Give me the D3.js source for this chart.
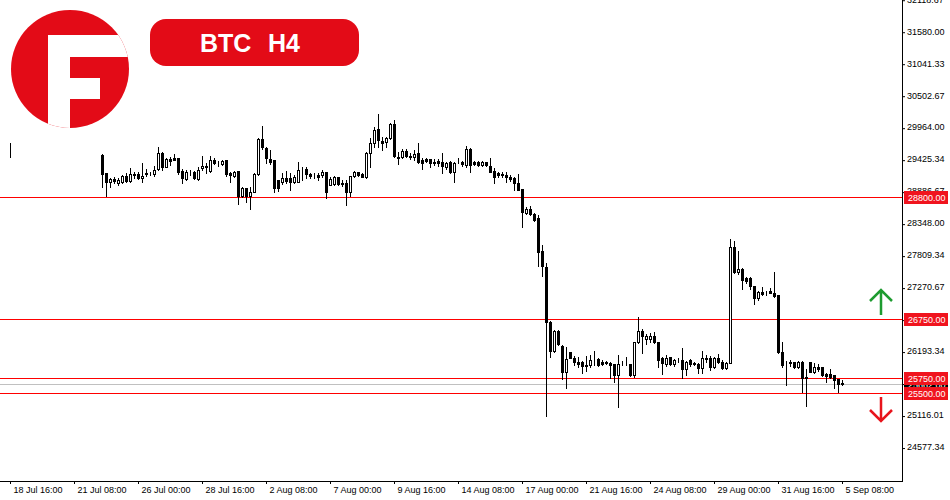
<!DOCTYPE html>
<html>
<head>
<meta charset="utf-8">
<title>BTC H4</title>
<script src="https://d3js.org/d3.v7.min.js"></script>
<style>
body { margin: 0; background: #fff; }
svg { display: block; font-family: "Liberation Sans", Arial, sans-serif; }
</style>
</head>
<body>
<svg id="chart" width="950" height="500"></svg>
<script>
var symbol = "BTC", period = "H4";

// bottom axis labels, one every 16 bars
var timeLabels = ["18 Jul 16:00", "21 Jul 08:00", "26 Jul 00:00", "28 Jul 16:00", "2 Aug 08:00",
    "7 Aug 00:00", "9 Aug 16:00", "14 Aug 08:00", "17 Aug 00:00", "21 Aug 16:00",
    "24 Aug 08:00", "29 Aug 00:00", "31 Aug 16:00", "5 Sep 08:00"];
var labelStep = 16;

var priceTicks = [24577.34, 25116.01, 25654.67, 26193.34, 26732.01, 27270.67, 27809.34, 28348.00,
    28886.67, 29425.34, 29964.00, 30502.67, 31041.33, 31580.00, 32118.67];

// support / resistance levels
var levels = [28800, 26750, 25750, 25500];

// first (cut) bar at the left edge
var edgeIndex = 0;
var edgeBar = [29600, 29709, 29484, 29590];

// visible H4 candles, starting at bar 23
var firstIndex = 23;
var opens = [
  29512, 29209, 29063, 29108, 29046, 29058, 29159, 29074, 29192, 29192,
  29120, 29204, 29204, 29187, 29271, 29551, 29315, 29445, 29457, 29457,
  29248, 29103, 29221, 29231, 29103, 29288, 29327, 29243, 29428, 29372,
  29361, 29428, 29214, 29164, 29243, 28822, 28952, 28822, 28894, 29187,
  29777, 29625, 29440, 29428, 29091, 29063, 29120, 29120, 29063, 29063,
  29260, 29271, 29192, 29176, 29176, 29176, 29221, 29007, 29019, 29137,
  29036, 29046, 28894, 29164, 29226, 29192, 29147, 29541, 29709, 29945,
  29748, 29726, 29794, 30034, 29484, 29484, 29580, 29501, 29484, 29541,
  29428, 29440, 29440, 29389, 29416, 29400, 29315, 29400, 29231, 29400,
  29400, 29344, 29608, 29400, 29400, 29344, 29389, 29327, 29248, 29204,
  29187, 29176, 29147, 29130, 29046, 28940, 28530, 28603, 28514, 28456,
  27896, 27621, 26705, 26217, 26553, 26301, 25863, 26190, 26099, 26021,
  26032, 25970, 25976, 26060, 26072, 26032, 26032, 26015, 25988, 25808,
  26015, 26032, 25988, 25808, 26358, 26548, 26414, 26414, 26464, 26358,
  26089, 25988, 26106, 25988, 26060, 26060, 25903, 26060, 26005, 25988,
  25930, 26099, 26099, 25947, 26089, 26021, 25920, 26015, 27958, 27547,
  27588, 27446, 27436, 27306, 27109, 27210, 27193, 27222, 27183, 27155,
  26190, 26015, 26005, 26021, 25947, 26032, 25752, 26021, 25863, 25937,
  25937, 25819, 25819, 25808, 25735, 25675];
var highs = [
  29529, 29215, 29130, 29147, 29125, 29176, 29209, 29288, 29231, 29231,
  29383, 29277, 29231, 29327, 29642, 29555, 29457, 29474, 29529, 29465,
  29271, 29260, 29260, 29248, 29315, 29495, 29372, 29495, 29457, 29411,
  29428, 29435, 29231, 29248, 29250, 28968, 28960, 28978, 29204, 29794,
  30001, 29642, 29597, 29435, 29097, 29204, 29243, 29204, 29176, 29400,
  29315, 29305, 29204, 29204, 29204, 29260, 29226, 29147, 29159, 29147,
  29091, 29091, 29164, 29243, 29231, 29204, 29558, 29794, 29979, 30203,
  29820, 29810, 30046, 30102, 29568, 29608, 29608, 29541, 29597, 29709,
  29457, 29457, 29450, 29440, 29445, 29541, 29400, 29416, 29400, 29457,
  29416, 29664, 29625, 29416, 29416, 29416, 29400, 29457, 29288, 29231,
  29221, 29221, 29176, 29147, 29192, 28945, 28642, 28659, 28530, 28502,
  27997, 27689, 26712, 26565, 26565, 26305, 26274, 26200, 26128, 26116,
  26048, 26128, 26144, 26212, 26089, 26060, 26048, 26032, 25995, 26144,
  26048, 26116, 25995, 26368, 26789, 26582, 26493, 26510, 26537, 26368,
  26116, 26144, 26116, 26077, 26099, 26267, 26043, 26077, 26032, 26005,
  26212, 26144, 26133, 26116, 26156, 26060, 26021, 28098, 28064, 27896,
  27604, 27463, 27453, 27310, 27222, 27294, 27222, 27278, 27547, 27160,
  26368, 26043, 26060, 26032, 26043, 26040, 25909, 26032, 26005, 25988,
  25947, 25836, 25909, 25815, 25740, 25723];
var lows = [
  28973, 28822, 28968, 29046, 29007, 29041, 29058, 29058, 29120, 29108,
  29063, 29159, 29170, 29159, 29260, 29260, 29305, 29344, 29420, 29192,
  29046, 29091, 29176, 29103, 29091, 29260, 29214, 29231, 29361, 29327,
  29344, 29159, 29063, 29147, 28682, 28800, 28726, 28598, 28884, 29176,
  29608, 29372, 29356, 28894, 28911, 29024, 29036, 28923, 29046, 29053,
  29091, 29120, 29120, 29120, 29091, 29147, 28783, 29002, 29007, 29007,
  28990, 28670, 28822, 29147, 29159, 29142, 29130, 29315, 29652, 29652,
  29597, 29652, 29777, 29484, 29356, 29457, 29484, 29445, 29428, 29372,
  29271, 29400, 29305, 29344, 29327, 29204, 29277, 29204, 29063, 29372,
  29327, 29305, 29231, 29344, 29332, 29327, 29327, 29221, 29036, 29147,
  29147, 29063, 29080, 28923, 28915, 28305, 28514, 28502, 28401, 27643,
  27480, 25122, 26106, 26200, 26313, 25735, 25594, 26089, 25976, 25947,
  25846, 25880, 25947, 25976, 25959, 25976, 25988, 25752, 25695, 25274,
  25976, 25976, 25796, 25779, 26341, 26183, 26330, 26368, 26341, 25947,
  25824, 25964, 25976, 25964, 26021, 25752, 25808, 25964, 25976, 25836,
  25836, 26021, 25892, 25920, 26005, 25909, 25909, 26005, 27520, 27503,
  27256, 27352, 27256, 26998, 27070, 27155, 27155, 27183, 27126, 26173,
  25947, 25639, 25964, 25930, 25930, 25526, 25285, 25853, 25846, 25875,
  25796, 25685, 25752, 25594, 25526, 25639];
var closes = [
  29192, 29058, 29108, 29069, 29091, 29154, 29074, 29192, 29170, 29120,
  29159, 29187, 29209, 29260, 29551, 29315, 29445, 29416, 29433, 29221,
  29120, 29231, 29226, 29120, 29260, 29327, 29305, 29428, 29372, 29370,
  29416, 29192, 29176, 29231, 28822, 28952, 28822, 28884, 29187, 29777,
  29642, 29457, 29400, 28962, 28962, 29120, 29080, 29063, 29137, 29260,
  29255, 29187, 29159, 29172, 29137, 29221, 28894, 29108, 29147, 29019,
  29032, 28894, 29159, 29226, 29176, 29147, 29541, 29709, 29933, 29765,
  29719, 29794, 30034, 29495, 29457, 29580, 29501, 29474, 29529, 29400,
  29383, 29416, 29383, 29385, 29383, 29327, 29383, 29221, 29383, 29396,
  29356, 29608, 29344, 29361, 29344, 29389, 29344, 29231, 29147, 29176,
  29183, 29147, 29108, 29046, 28923, 28547, 28603, 28514, 28418, 27884,
  27648, 26695, 26217, 26553, 26330, 25863, 26077, 26099, 26021, 25993,
  25964, 25966, 26060, 26056, 25976, 25988, 26005, 25976, 25808, 25988,
  26012, 26028, 25808, 26358, 26548, 26469, 26469, 26464, 26358, 26060,
  26005, 26089, 25988, 26060, 26056, 25903, 26032, 25988, 26001, 25930,
  26089, 26072, 25947, 26089, 26021, 25920, 26015, 27958, 27547, 27588,
  27407, 27396, 27311, 27109, 27210, 27172, 27190, 27193, 27143, 26200,
  25976, 26010, 26032, 25947, 26032, 25752, 25780, 25863, 25947, 25909,
  25808, 25796, 25779, 25723, 25651, 25662];

var plotRight = 902, plotBottom = 481;
var red = "#e30b17";

var svg = d3.select("#chart");

var x = d3.scaleLinear().domain([0, 223]).range([10, plotRight]);
var y = d3.scaleLinear().domain([24022.5, 32122.5]).range([plotBottom, 0]);

var bars = opens.map(function (o, k) {
    return { i: firstIndex + k, o: o, h: highs[k], l: lows[k], c: closes[k] };
});
bars.unshift({ i: edgeIndex, o: edgeBar[0], h: edgeBar[1], l: edgeBar[2], c: edgeBar[3] });

// price axis
var yAxis = svg.append("g")
    .attr("transform", "translate(" + plotRight + ",0)")
    .call(d3.axisRight(y).tickValues(priceTicks).tickSize(3).tickPadding(2)
        .tickFormat(d3.format(".2f")));
yAxis.select(".domain").remove();
yAxis.selectAll("text").attr("dy", "0.2em").attr("font-size", 9).attr("fill", "#000");

// time axis
var tickIdx = timeLabels.map(function (d, k) { return k * labelStep; });
var xAxis = svg.append("g")
    .attr("transform", "translate(0," + plotBottom + ")")
    .call(d3.axisBottom(x).tickValues(tickIdx).tickSize(3).tickPadding(3)
        .tickFormat(function (d, k) { return timeLabels[k]; }));
xAxis.select(".domain").remove();
xAxis.selectAll("text").attr("text-anchor", "start").attr("x", 3)
    .attr("font-size", 9).attr("fill", "#000");

// frame lines
svg.append("rect").attr("x", 0).attr("y", plotBottom).attr("width", plotRight + 1).attr("height", 1)
    .attr("fill", "#000").attr("shape-rendering", "crispEdges");
svg.append("rect").attr("x", plotRight).attr("y", 0).attr("width", 1).attr("height", plotBottom + 1)
    .attr("fill", "#000").attr("shape-rendering", "crispEdges");

// current price line
var last = closes[closes.length - 1];
var py = Math.round(y(last));
svg.append("rect").attr("x", 0).attr("y", py).attr("width", plotRight).attr("height", 1)
    .attr("fill", "#c0c0c0").attr("shape-rendering", "crispEdges");

// level lines
svg.selectAll(".level").data(levels).enter().append("rect")
    .attr("class", "level")
    .attr("x", 0).attr("width", plotRight).attr("height", 1)
    .attr("y", function (d) { return Math.round(y(d)); })
    .attr("fill", "#ff0000")
    .attr("shape-rendering", "crispEdges");

// candles
var g = svg.append("g");
var candle = g.selectAll("g").data(bars).enter().append("g");
candle.append("line")
    .attr("x1", function (d) { return x(d.i) + 0.5; })
    .attr("x2", function (d) { return x(d.i) + 0.5; })
    .attr("y1", function (d) { return Math.round(y(d.h)); })
    .attr("y2", function (d) { return Math.round(y(d.l)) + 1; })
    .attr("stroke", "#000");
candle.append("rect")
    .attr("x", function (d) { return x(d.i) - 0.5; })
    .attr("y", function (d) { return Math.round(y(Math.max(d.o, d.c))) + 0.5; })
    .attr("width", 2)
    .attr("height", function (d) {
        return Math.round(y(Math.min(d.o, d.c))) - Math.round(y(Math.max(d.o, d.c)));
    })
    .attr("fill", function (d) { return d.c >= d.o ? "#fff" : "#000"; })
    .attr("stroke", "#000");

// current price tag (mostly hidden behind level tags)
svg.append("rect").attr("x", plotRight + 2).attr("y", py - 6).attr("width", 44).attr("height", 13)
    .attr("fill", "#000");
svg.append("text").attr("x", plotRight + 6).attr("y", py + 4).attr("font-size", 9)
    .attr("fill", "#fff").text(d3.format(".2f")(last));

// level tags
var tag = svg.selectAll(".tag").data(levels).enter().append("g").attr("class", "tag")
    .attr("transform", function (d) { return "translate(" + (plotRight + 2) + "," + Math.round(y(d)) + ")"; });
tag.append("rect").attr("x", 0).attr("y", -6).attr("width", 44).attr("height", 13).attr("fill", "#f0141e");
tag.append("text").attr("x", 4).attr("y", 4).attr("font-size", 9).attr("fill", "#fff")
    .text(function (d) { return d3.format(".2f")(d); });

// up / down arrows
svg.append("path").attr("d", "M881,315 L881,290 M870,301 L881,290 L892,301")
    .attr("fill", "none").attr("stroke", "#1e9b30").attr("stroke-width", 2.5);
svg.append("path").attr("d", "M881,397 L881,421 M870,410 L881,421 L892,410")
    .attr("fill", "none").attr("stroke", "#e8141c").attr("stroke-width", 2.5);

// logo
svg.append("clipPath").attr("id", "logoClip")
    .append("circle").attr("cx", 70).attr("cy", 69).attr("r", 59);
var logo = svg.append("g").attr("clip-path", "url(#logoClip)");
logo.append("rect").attr("x", 0).attr("y", 0).attr("width", 140).attr("height", 140).attr("fill", red);
logo.append("rect").attr("x", 48).attr("y", 35).attr("width", 22).attr("height", 100).attr("fill", "#fff");
logo.append("rect").attr("x", 48).attr("y", 35).attr("width", 90).attr("height", 22).attr("fill", "#fff");
logo.append("rect").attr("x", 70).attr("y", 78).attr("width", 30).attr("height", 21).attr("fill", "#fff");

// title badge
svg.append("rect").attr("x", 150).attr("y", 19).attr("width", 209).attr("height", 47)
    .attr("rx", 16).attr("fill", red);
var title = svg.append("text").attr("y", 51.5)
    .attr("font-size", 25).attr("font-weight", "bold").attr("fill", "#fff");
title.append("tspan").attr("x", 200).text(symbol);
title.append("tspan").attr("x", 268).text(period);
</script>
</body>
</html>
